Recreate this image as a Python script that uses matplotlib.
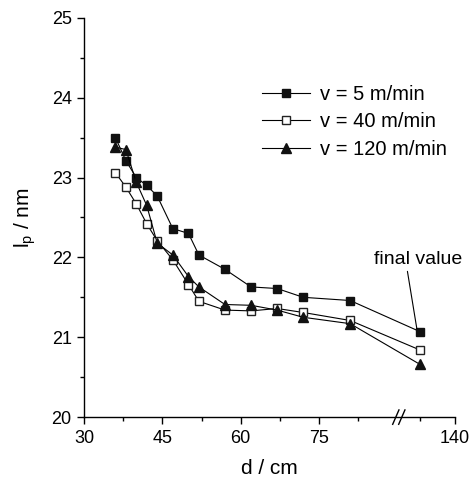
import numpy as np
import matplotlib
matplotlib.use('Agg')
import matplotlib.pyplot as plt
from matplotlib.scale import FuncScale

plt.rcParams['font.family'] = ['Liberation Sans', 'DejaVu Sans']
plt.rcParams['mathtext.fontset'] = 'custom'
plt.rcParams['mathtext.rm'] = 'Liberation Sans'
plt.rcParams['mathtext.it'] = 'Liberation Sans'

# distance d / cm (last point is the final value, plotted after the axis break)
d = [36, 38, 40, 42, 44, 47, 50, 52, 57, 62, 67, 72, 81, 130]

lp_5 = [23.50, 23.21, 23.00, 22.90, 22.77, 22.36, 22.30, 22.03, 21.85, 21.63,
        21.61, 21.50, 21.46, 21.07]
lp_40 = [23.06, 22.88, 22.67, 22.42, 22.21, 21.97, 21.66, 21.45, 21.34, 21.33,
         21.36, 21.31, 21.21, 20.84]
lp_120 = [23.38, 23.35, 22.94, 22.65, 22.18, 22.03, 21.76, 21.63, 21.41, 21.40,
          21.34, 21.25, 21.17, 20.66]

labels = ['v = 5 m/min', 'v = 40 m/min', 'v = 120 m/min']

x_major = [30, 45, 60, 75, 140]
x_major_labels = ['30', '45', '60', '75', '140']
x_minor = [37.5, 52.5, 67.5, 82.5, 130]

# broken x axis: linear up to 90, squeezed gap, compressed part after 123.5
b1, b2, k_gap, k_after = 90.0, 123.5, 0.001, 0.67


def fwd(x):
    x = np.asarray(x, dtype=float)
    return np.where(x <= b1, x,
                    np.where(x <= b2, b1 + (x - b1) * k_gap,
                             b1 + (b2 - b1) * k_gap + (x - b2) * k_after))


def inv(u):
    u = np.asarray(u, dtype=float)
    u_b2 = b1 + (b2 - b1) * k_gap
    return np.where(u <= b1, u,
                    np.where(u <= u_b2, b1 + (u - b1) / k_gap,
                             b2 + (u - u_b2) / k_after))


fig = plt.figure(figsize=(4.7, 4.8), dpi=100)
ax = fig.add_axes([0.179, 0.131, 0.789, 0.832])
ax.set_xscale(FuncScale(ax, (fwd, inv)))

ax.plot(d, lp_5, '-s', color='black', lw=0.8, ms=6, mfc='#111111',
        mec='#111111', label=labels[0])
ax.plot(d, lp_40, '-s', color='black', lw=0.8, ms=6, mfc='white',
        mec='#222222', label=labels[1])
ax.plot(d, lp_120, '-^', color='black', lw=0.8, ms=7, mfc='#111111',
        mec='#111111', label=labels[2])

ax.set_xlim(30, 140)
ax.set_ylim(20, 25)
ax.set_xticks(x_major)
ax.set_xticklabels(x_major_labels)
ax.set_xticks(x_minor, minor=True)
ax.set_yticks([20, 21, 22, 23, 24, 25])
ax.set_yticks(np.arange(20.5, 25, 1.0), minor=True)

for s in ['top', 'right']:
    ax.spines[s].set_visible(False)
ax.spines['left'].set_linewidth(1.0)
ax.spines['bottom'].set_linewidth(1.0)
ax.tick_params(which='major', direction='out', length=5, width=1.0,
               labelsize=13, pad=4)
ax.tick_params(which='minor', direction='out', length=3, width=1.0)

ax.set_xlabel('d / cm', fontsize=15, labelpad=9)
ax.set_ylabel(r'l$_\mathrm{p}$ / nm', fontsize=15, labelpad=10)

# break marks on the x axis
tr = ax.get_xaxis_transform()
for uc in [89.75, 90.9]:
    ax.plot([inv(uc - 0.6), inv(uc + 0.6)], [-0.018, 0.018], transform=tr,
            color='black', lw=1.0, clip_on=False)

ax.text(129.4, 21.97, 'final value', ha='center', va='center', fontsize=14)
ax.annotate('', xy=(129.1, 21.105), xytext=(126.4, 21.825),
            arrowprops=dict(arrowstyle='-', color='black', lw=0.8,
                            shrinkA=0, shrinkB=0))

ax.legend(loc='upper left', bbox_to_anchor=(0.431, 0.8775), frameon=False,
          fontsize=14.5, handlelength=2.4, handletextpad=0.5,
          labelspacing=0.42)

fig.savefig('out.png', dpi=100)
